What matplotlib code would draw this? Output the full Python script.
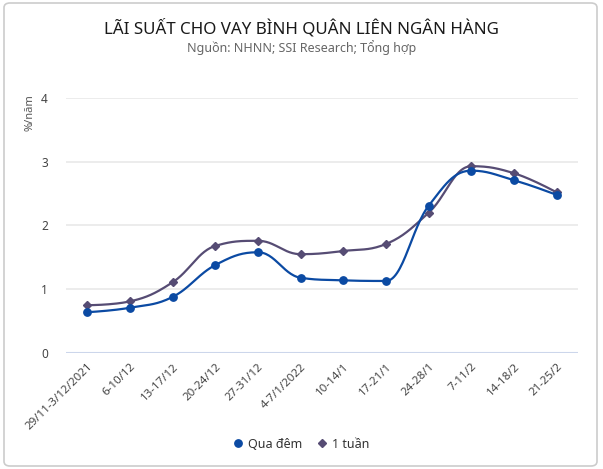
import numpy as np
import matplotlib
matplotlib.use('Agg')
from matplotlib import pyplot as plt
from matplotlib.patches import FancyBboxPatch
from matplotlib.lines import Line2D

plt.rcParams['font.family'] = ['Noto Sans', 'DejaVu Sans']

weeks = ['29/11-3/12/2021', '6-10/12', '13-17/12', '20-24/12', '27-31/12', '4-7/1/2022',
         '10-14/1', '17-21/1', '24-28/1', '7-11/2', '14-18/2', '21-25/2']
qua_dem = [0.64, 0.71, 0.88, 1.38, 1.58, 1.18, 1.14, 1.13, 2.31, 2.86, 2.71, 2.48]
mot_tuan = [0.75, 0.81, 1.11, 1.68, 1.76, 1.55, 1.60, 1.71, 2.20, 2.93, 2.82, 2.52]

c_dem = '#0b4aa3'
c_tuan = '#564c74'


def spline(xs, ys, steps=30):
    # kieu spline cua Highcharts (smoothing 1.5)
    xs = np.asarray(xs, float)
    ys = np.asarray(ys, float)
    n = len(xs)
    sm, den = 1.5, 2.5
    lc = [(xs[i], ys[i]) for i in range(n)]
    rc = [(xs[i], ys[i]) for i in range(n)]
    for i in range(1, n - 1):
        lx = (sm * xs[i] + xs[i - 1]) / den
        ly = (sm * ys[i] + ys[i - 1]) / den
        rx = (sm * xs[i] + xs[i + 1]) / den
        ry = (sm * ys[i] + ys[i + 1]) / den
        corr = (ry - ly) * (rx - xs[i]) / (rx - lx) + ys[i] - ry
        ly += corr
        ry += corr
        if ly > max(ys[i - 1], ys[i]):
            ly = max(ys[i - 1], ys[i])
            ry = 2 * ys[i] - ly
        elif ly < min(ys[i - 1], ys[i]):
            ly = min(ys[i - 1], ys[i])
            ry = 2 * ys[i] - ly
        if ry > max(ys[i + 1], ys[i]):
            ry = max(ys[i + 1], ys[i])
            ly = 2 * ys[i] - ry
        elif ry < min(ys[i + 1], ys[i]):
            ry = min(ys[i + 1], ys[i])
            ly = 2 * ys[i] - ry
        lc[i] = (lx, ly)
        rc[i] = (rx, ry)
    t = np.linspace(0, 1, steps)[:, None]
    out = []
    for i in range(n - 1):
        p0 = np.array([xs[i], ys[i]])
        p1 = np.array(rc[i])
        p2 = np.array(lc[i + 1])
        p3 = np.array([xs[i + 1], ys[i + 1]])
        seg = (1 - t) ** 3 * p0 + 3 * (1 - t) ** 2 * t * p1 + 3 * (1 - t) * t ** 2 * p2 + t ** 3 * p3
        out.append(seg if i == 0 else seg[1:])
    out = np.vstack(out)
    return out[:, 0], out[:, 1]


fig = plt.figure(figsize=(6.03, 4.69), dpi=100)
W, H = 603, 469

# khung vien
fig.patches.append(FancyBboxPatch((4 / W, 3 / H), 593 / W, 463 / H,
                                  boxstyle='round,pad=0,rounding_size=0.01',
                                  transform=fig.transFigure, facecolor='none',
                                  edgecolor='#cccccc', linewidth=1.2, zorder=-1))

ax = fig.add_axes([66 / W, (H - 353) / H, 512 / W, 255 / H])
ax.set_facecolor('none')
x = np.arange(len(weeks))

for yv in [1, 2, 3, 4]:
    ax.axhline(yv, color='#e9e9e9', linewidth=1.2, zorder=0)
ax.axhline(0, color='#ccd6eb', linewidth=1.5, zorder=0)

sx, sy = spline(x, mot_tuan)
ax.plot(sx, sy, color=c_tuan, linewidth=1.6, zorder=2)
ax.plot(x, mot_tuan, linestyle='none', marker='D', markersize=4, color=c_tuan, zorder=3)

sx, sy = spline(x, qua_dem)
ax.plot(sx, sy, color=c_dem, linewidth=1.6, zorder=4)
ax.plot(x, qua_dem, linestyle='none', marker='o', markersize=5.3, color=c_dem, zorder=5)

ax.set_xlim(-0.5, len(weeks) - 0.5)
ax.set_ylim(0, 4)
ax.set_yticks([0, 1, 2, 3, 4])
ax.set_yticklabels(['0', '1', '2', '3', '4'])
ax.set_xticks(x)
ax.set_xticklabels(weeks, rotation=45, ha='right', rotation_mode='anchor')
ax.tick_params(axis='y', length=0, pad=13, labelsize=8.5, labelcolor='#444444')
ax.tick_params(axis='x', length=0, pad=6, labelsize=8.3, labelcolor='#444444')
for s in ax.spines.values():
    s.set_visible(False)

fig.text(30 / W, 1 - 113 / H, '%/năm', rotation=90, ha='center', va='center',
         fontsize=8, color='#555555')

fig.text(0.5, 1 - 28 / H, 'LÃI SUẤT CHO VAY BÌNH QUÂN LIÊN NGÂN HÀNG', ha='center', va='center',
         fontsize=12.2, fontweight='semibold', color='#1a1a1a')
fig.text(0.5, 1 - 48 / H, 'Nguồn: NHNN; SSI Research; Tổng hợp', ha='center', va='center',
         fontsize=9, color='#666666')

handles = [Line2D([], [], linestyle='none', marker='o', markersize=5.3, color=c_dem),
           Line2D([], [], linestyle='none', marker='D', markersize=4, color=c_tuan)]
fig.legend(handles, ['Qua đêm', '1 tuần'], loc='center', bbox_to_anchor=(0.5, 1 - 444 / H),
           ncol=2, frameon=False, fontsize=9, handlelength=0.8, handletextpad=0.4,
           columnspacing=1.2, labelcolor='#333333')

fig.savefig('out.png', dpi=100)
